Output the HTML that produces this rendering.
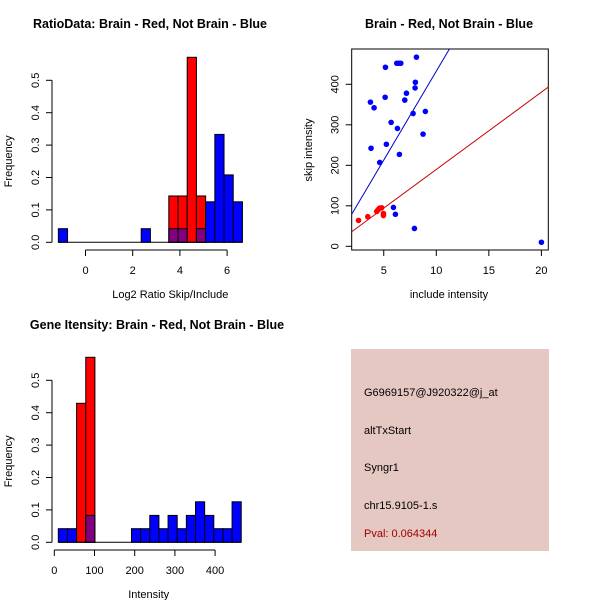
<!DOCTYPE html>
<html><head><meta charset="utf-8"><style>
body{margin:0;background:#fff}
svg{display:block;font-family:"Liberation Sans",sans-serif}
</style></head><body>
<svg id="s" width="600" height="600" viewBox="0 0 600 600"></svg>
<script>
// ---- Panel 1: ratio histogram ----
const ratioBinStart = -1.15, ratioBinWidth = 0.39;
const ratioBlue = [0.042,0,0,0,0,0,0,0,0,0.042,0,0,0.042,0.042,0,0.042,0.125,0.333,0.208,0.125];
const ratioRed  = [0,0,0,0,0,0,0,0,0,0,0,0,0.143,0.143,0.571,0.143,0,0,0,0];
const ratioXTicks = [0,2,4,6];
const freqTicks = [0,0.1,0.2,0.3,0.4,0.5];
// ---- Panel 2: scatter ----
const blueX = [5.16,6.24,6.43,6.62,8.11,3.73,4.08,5.13,7.0,7.16,7.98,8.01,7.79,8.96,5.70,6.30,3.79,5.25,6.49,4.62,8.74,5.92,6.11,7.92,20.0];
const blueY = [442,452,452,452,467,356,342,368,361,378,391,405,328,333,306,291,242,252,227,207,277,96,79,44,10];
const redX = [2.6,3.48,4.33,4.45,4.6,4.8,4.97,4.97];
const redY = [64,73,86,90,94,95,81,76];
const blueFit = [-6.6,43.9]; // intercept, slope
const redFit = [-1.3,19.1];
const scatXTicks = [5,10,15,20];
const scatYTicks = [0,100,200,300,400];
// ---- Panel 3: intensity histogram ----
const intBinStart = 10, intBinWidth = 22.75;
const intBlue = [0.042,0.042,0,0.083,0,0,0,0,0.042,0.042,0.083,0.042,0.083,0.042,0.083,0.125,0.083,0.042,0.042,0.125];
const intRed  = [0,0,0.429,0.571,0,0,0,0,0,0,0,0,0,0,0,0,0,0,0,0];
const intXTicks = [0,100,200,300,400];
// ---- Panel 4 text ----
const infoLines = ["G6969157@J920322@j_at","altTxStart","Syngr1","chr15.9105-1.s"];
const pvalText = "Pval: 0.064344";

const svg = document.getElementById('s');
const NS = 'http://www.w3.org/2000/svg';
function mk(tag, attrs, parent){const e=document.createElementNS(NS,tag);for(const k in attrs)e.setAttribute(k,attrs[k]);(parent||svg).appendChild(e);return e;}
function txt(s,x,y,opts,name){const t=mk('text',Object.assign({x:x,y:y,'font-size':11,'text-anchor':'middle',fill:'#000'},opts||{}));t.textContent=s;


return t;}
function ln(x1,y1,x2,y2,name,stroke){const l=mk('line',{x1:x1,y1:y1,x2:x2,y2:y2,stroke:stroke||'#000','stroke-width':1});


return l;}

function histogram(opts){
  const {binStart,binWidth,blue,red,xTicks,x0,xScale,y0,yScale,axisY,xLabel,xLabelY,title,titleX,titleY,prefix,tickLabelY,yLabelX} = opts;
  const X=v=>x0+v*xScale, Y=f=>y0-f*yScale;
  const n=blue.length;
  for(let i=0;i<n;i++){
    const l=X(binStart+i*binWidth), r=X(binStart+(i+1)*binWidth);
    const b=blue[i], rd=red[i];
    function bar(h,fill,name){ if(h<=0) return; const e=mk('rect',{x:l,y:Y(h),width:r-l,height:Y(0)-Y(h),fill:fill,stroke:'#000','stroke-width':1});
      
       }
    if(rd>0){ bar(rd,'#ff0000',prefix+'-red-bar-'+i); if(b>0) bar(Math.min(b,rd),'#800080',prefix+'-overlap-bar-'+i); if(b>rd) bar(b,'#0000ff',prefix+'-blue-bar-'+i);}
    else bar(b,'#0000ff',prefix+'-blue-bar-'+i);
  }
  ln(X(binStart),Y(0),X(binStart+n*binWidth),Y(0),prefix+'-baseline');
  const yAxisX = opts.yAxisX;
  ln(yAxisX,Y(0),yAxisX,Y(0.5),prefix+'-y-axis');
  freqTicks.forEach(f=>{ln(yAxisX-6,Y(f),yAxisX,Y(f),prefix+'-y-tick');
    txt(f.toFixed(1),yAxisX-16,Y(f),{transform:`rotate(-90 ${yAxisX-16} ${Y(f)})`,'dominant-baseline':'central'},prefix+'-y-tick-label');});
  ln(X(xTicks[0]),axisY,X(xTicks[xTicks.length-1]),axisY,prefix+'-x-axis');
  xTicks.forEach(v=>{ln(X(v),axisY,X(v),axisY+6,prefix+'-x-tick');txt(String(v),X(v),tickLabelY,{},prefix+'-x-tick-label');});
  txt(xLabel,(X(xTicks[0])+X(xTicks[xTicks.length-1]))/2+opts.xLabelShift,xLabelY,{},prefix+'-x-axis-title');
  txt('Frequency',yLabelX,(Y(0)+Y(0.5))/2,{transform:`rotate(-90 ${yLabelX} ${(Y(0)+Y(0.5))/2})`},prefix+'-y-axis-title');
  txt(title,titleX,titleY,{'font-weight':'bold','font-size':12.5},prefix+'-title');
}

histogram({binStart:ratioBinStart,binWidth:ratioBinWidth,blue:ratioBlue,red:ratioRed,xTicks:ratioXTicks,
  x0:85.5,xScale:23.6,y0:242.3,yScale:324,axisY:250,tickLabelY:274,xLabel:'Log2 Ratio Skip/Include',xLabelY:298,xLabelShift:14,
  title:'RatioData: Brain - Red, Not Brain - Blue',titleX:150,titleY:28,prefix:'ratio',yAxisX:52,yLabelX:12});

histogram({binStart:intBinStart,binWidth:intBinWidth,blue:intBlue,red:intRed,xTicks:intXTicks,
  x0:54.3,xScale:0.402,y0:542.3,yScale:324,axisY:550,tickLabelY:574,xLabel:'Intensity',xLabelY:598,xLabelShift:14,
  title:'Gene Itensity: Brain - Red, Not Brain - Blue',titleX:157,titleY:329,prefix:'intensity',yAxisX:52,yLabelX:12});

// scatter
(function(){
  const X=v=>331.2+v*10.51, Y=v=>246.3-v*0.405;
  const bx0=351.7,bx1=548.3,by0=49,by1=250;
  const clip=mk('clipPath',{id:'cp'}); mk('rect',{x:bx0,y:by0,width:bx1-bx0,height:by1-by0},clip);
  const box=mk('rect',{x:bx0,y:by0,width:bx1-bx0,height:by1-by0,fill:'none',stroke:'#000'});
  
  
  const xmin=(bx0-331.2)/10.51, xmax=(bx1-331.2)/10.51;
  [[blueFit,'#0000cc','blue-fit-line'],[redFit,'#cc0000','red-fit-line']].forEach(([f,c,nm])=>{
    const l=mk('line',{x1:X(xmin),y1:Y(f[0]+f[1]*xmin),x2:X(xmax),y2:Y(f[0]+f[1]*xmax),stroke:c,'clip-path':'url(#cp)'});
    
    
  });
  blueX.forEach((x,i)=>{const c=mk('circle',{cx:X(x),cy:Y(blueY[i]),r:2.8,fill:'#0000ff'});
    
    });
  redX.forEach((x,i)=>{const c=mk('circle',{cx:X(x),cy:Y(redY[i]),r:2.8,fill:'#ff0000'});
    
    });
  scatXTicks.forEach(v=>{ln(X(v),by1,X(v),by1+6,'scatter-x-tick');txt(String(v),X(v),274,{},'scatter-x-tick-label');});
  scatYTicks.forEach(v=>{ln(bx0-6,Y(v),bx0,Y(v),'scatter-y-tick');txt(String(v),bx0-16,Y(v),{transform:`rotate(-90 ${bx0-16} ${Y(v)})`,'dominant-baseline':'central'},'scatter-y-tick-label');});
  txt('include intensity',449,298,{},'scatter-x-axis-title');
  txt('skip intensity',312,150,{transform:'rotate(-90 312 150)'},'scatter-y-axis-title');
  txt('Brain - Red, Not Brain - Blue',449,28,{'font-weight':'bold','font-size':12.5},'scatter-title');
})();

// info panel
(function(){
  const r=mk('rect',{x:351,y:349,width:198,height:202,fill:'#e6c8c2'});
  
  
  const ys=[396,434,471,509];
  infoLines.forEach((s,i)=>txt(s,364,ys[i],{'text-anchor':'start','font-size':11},'info-line'));
  txt(pvalText,364,537,{'text-anchor':'start','font-size':11,fill:'#a00000'},'pval-text');
})();
</script>
</body></html>
